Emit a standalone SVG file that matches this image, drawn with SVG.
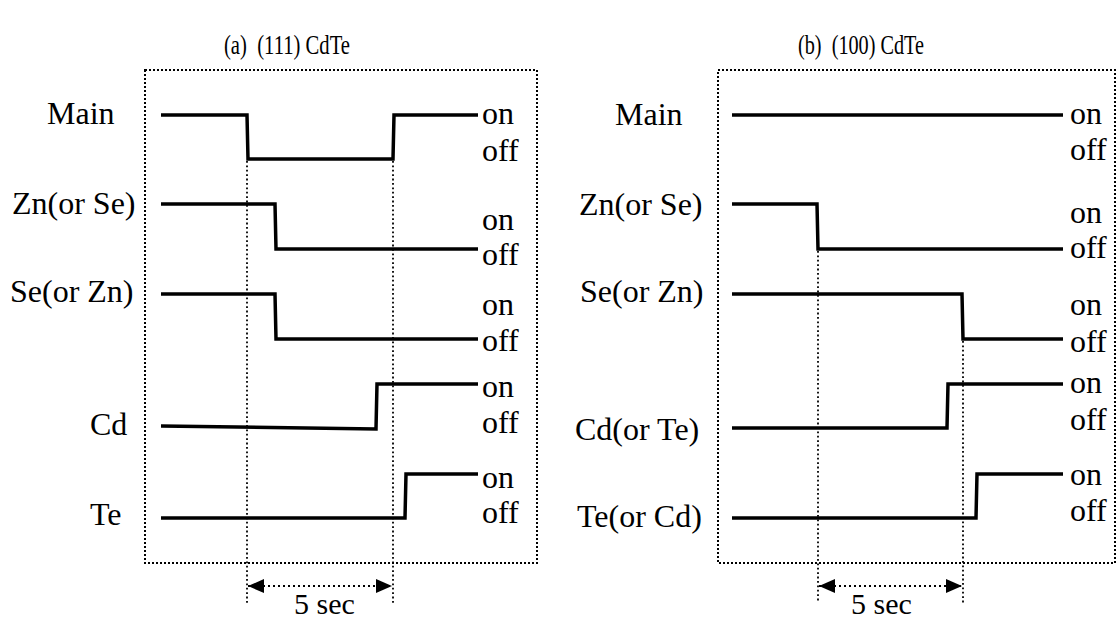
<svg xmlns="http://www.w3.org/2000/svg" width="1119" height="620" viewBox="0 0 1119 620" font-family="'Liberation Serif', 'DejaVu Serif', serif">
<style>
text{font-family:'Liberation Serif','DejaVu Serif',serif;fill:#000}
.lbl{font-size:32px}
.st{font-size:32px}
.ttl{font-size:27px}
.sec{font-size:30px}
.trace{fill:none;stroke:#000;stroke-width:3.5;stroke-linejoin:miter}
.box{fill:none;stroke:#000;stroke-width:2;stroke-dasharray:2 2}
.guide{fill:none;stroke:#000;stroke-width:1.8;stroke-dasharray:1.8 2.6}
.dim{fill:none;stroke:#000;stroke-width:2;stroke-dasharray:2 3}
</style>
<defs>
<marker id="ah" markerUnits="userSpaceOnUse" markerWidth="16" markerHeight="14" viewBox="0 0 16 14" refX="16" refY="7" orient="auto-start-reverse">
<path d="M0,0 L16,7 L0,14 z" fill="#000"/>
</marker>
</defs>
<rect width="1119" height="620" fill="#fff"/>

<g id="panel-a">
<text class="ttl" x="224" y="54" xml:space="preserve" textLength="126" lengthAdjust="spacingAndGlyphs" font-family="Liberation Serif">(a)  (111) CdTe</text>
<rect class="box" x="145" y="70" width="392" height="493"/>
<g id="a-main">
<text class="lbl" x="47" y="124" font-family="Liberation Serif">Main</text>
<polyline class="trace" points="161,115 247,115 248,159 393,159 394,115 478,115"/>
<text class="st" x="482" y="124" font-family="Liberation Serif">on</text><text class="st" x="482" y="161" font-family="Liberation Serif">off</text>
</g>
<g id="a-zn">
<text class="lbl" x="12" y="214" font-family="Liberation Serif">Zn(or Se)</text>
<polyline class="trace" points="161,204 275,204 276,249 478,249"/>
<text class="st" x="482" y="230" font-family="Liberation Serif">on</text><text class="st" x="482" y="265" font-family="Liberation Serif">off</text>
</g>
<g id="a-se">
<text class="lbl" x="10" y="302" font-family="Liberation Serif">Se(or Zn)</text>
<polyline class="trace" points="161,294 275,294 276,339 478,339"/>
<text class="st" x="482" y="315" font-family="Liberation Serif">on</text><text class="st" x="482" y="351" font-family="Liberation Serif">off</text>
</g>
<g id="a-cd">
<text class="lbl" x="90" y="435" font-family="Liberation Serif">Cd</text>
<polyline class="trace" points="161,426 376,429 377,384 478,384"/>
<text class="st" x="482" y="397" font-family="Liberation Serif">on</text><text class="st" x="482" y="433" font-family="Liberation Serif">off</text>
</g>
<g id="a-te">
<text class="lbl" x="90" y="525" font-family="Liberation Serif">Te</text>
<polyline class="trace" points="161,518 405,518 406,474 478,474"/>
<text class="st" x="482" y="488" font-family="Liberation Serif">on</text><text class="st" x="482" y="523" font-family="Liberation Serif">off</text>
</g>
</g>

<g id="panel-b">
<text class="ttl" x="798" y="54" xml:space="preserve" textLength="126" lengthAdjust="spacingAndGlyphs" font-family="Liberation Serif">(b)  (100) CdTe</text>
<rect class="box" x="718" y="70" width="397" height="493"/>
<g id="b-main">
<text class="lbl" x="615" y="125" font-family="Liberation Serif">Main</text>
<polyline class="trace" points="732,115 1063,115"/>
<text class="st" x="1070" y="124" font-family="Liberation Serif">on</text><text class="st" x="1070" y="160" font-family="Liberation Serif">off</text>
</g>
<g id="b-zn">
<text class="lbl" x="579" y="215" font-family="Liberation Serif">Zn(or Se)</text>
<polyline class="trace" points="732,204 817,204 818,249 1063,249"/>
<text class="st" x="1070" y="223" font-family="Liberation Serif">on</text><text class="st" x="1070" y="258" font-family="Liberation Serif">off</text>
</g>
<g id="b-se">
<text class="lbl" x="580" y="302" font-family="Liberation Serif">Se(or Zn)</text>
<polyline class="trace" points="732,294 962,294 963,339 1063,339"/>
<text class="st" x="1070" y="315" font-family="Liberation Serif">on</text><text class="st" x="1070" y="352" font-family="Liberation Serif">off</text>
</g>
<g id="b-cd">
<text class="lbl" x="575" y="440" font-family="Liberation Serif">Cd(or Te)</text>
<polyline class="trace" points="732,428 947,428 948,384 1063,384"/>
<text class="st" x="1070" y="393" font-family="Liberation Serif">on</text><text class="st" x="1070" y="430" font-family="Liberation Serif">off</text>
</g>
<g id="b-te">
<text class="lbl" x="577" y="527" font-family="Liberation Serif">Te(or Cd)</text>
<polyline class="trace" points="732,518 976,518 977,474 1063,474"/>
<text class="st" x="1070" y="485" font-family="Liberation Serif">on</text><text class="st" x="1070" y="521" font-family="Liberation Serif">off</text>
</g>
</g>

<g id="connectors">
<line class="guide" x1="247" y1="161" x2="247" y2="603"/>
<line class="guide" x1="393" y1="161" x2="393" y2="603"/>
<line class="dim" x1="248" y1="586" x2="392" y2="586" marker-start="url(#ah)" marker-end="url(#ah)"/>
<line class="guide" x1="818" y1="251" x2="818" y2="603"/>
<line class="guide" x1="963" y1="341" x2="963" y2="603"/>
<line class="dim" x1="819" y1="586" x2="962" y2="586" marker-start="url(#ah)" marker-end="url(#ah)"/>
</g>
<text class="sec" x="294" y="614" font-family="Liberation Serif">5 sec</text>
<text class="sec" x="851" y="614" font-family="Liberation Serif">5 sec</text>
</svg>
